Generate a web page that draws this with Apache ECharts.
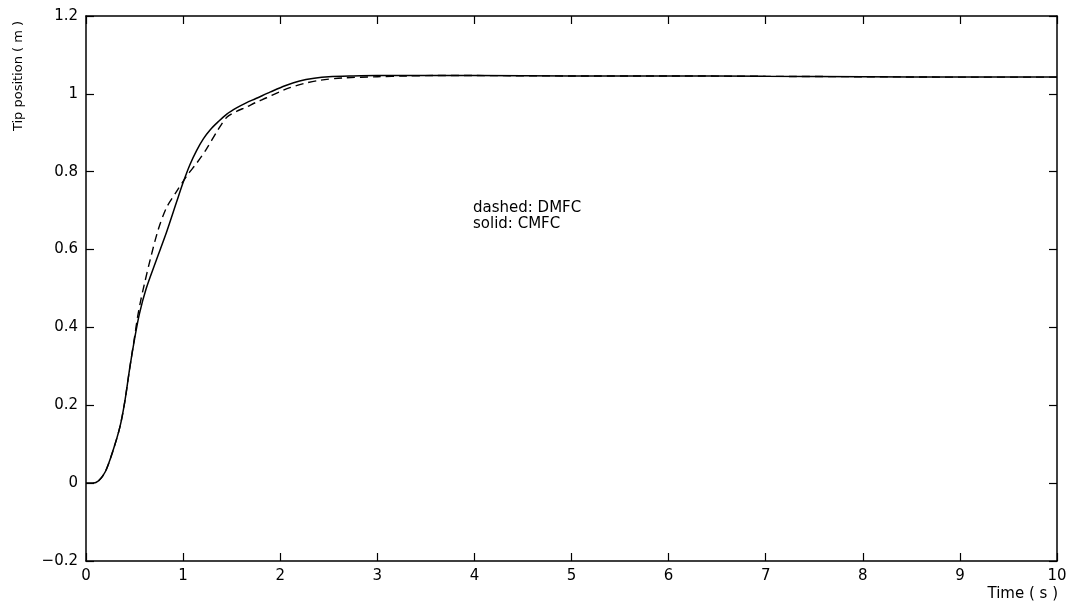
<!DOCTYPE html>
<html><head><meta charset="utf-8">
<script src="https://cdn.jsdelivr.net/npm/echarts@6/dist/echarts.min.js"></script>
<style>html,body{margin:0;padding:0;background:#fff}#c{width:1075px;height:604px}</style>
</head><body><div id="c"></div>
<script>
// CMFC (solid)
const solidT = [0, 0.07, 0.13, 0.2, 0.28, 0.35, 0.4, 0.45, 0.5, 0.55, 0.62, 0.72, 0.83, 0.93, 1.0, 1.07, 1.14, 1.21, 1.28, 1.36, 1.45, 1.55, 1.65, 1.75, 1.9, 2.05, 2.2, 2.35, 2.5, 2.75, 3.0, 3.5, 4, 5, 6, 7, 8, 9, 10];
const solidV = [0, 0, 0.006, 0.03, 0.085, 0.145, 0.21, 0.295, 0.37, 0.435, 0.50, 0.57, 0.645, 0.72, 0.772, 0.818, 0.855, 0.885, 0.908, 0.928, 0.948, 0.964, 0.977, 0.988, 1.005, 1.021, 1.033, 1.04, 1.044, 1.046, 1.047, 1.047, 1.047, 1.046, 1.046, 1.045, 1.044, 1.043, 1.043];
// DMFC (dashed)
const dashedT = [0, 0.07, 0.13, 0.2, 0.28, 0.35, 0.4, 0.45, 0.5, 0.53, 0.56, 0.6, 0.66, 0.745, 0.83, 0.93, 1.04, 1.14, 1.24, 1.36, 1.45, 1.55, 1.65, 1.75, 1.86, 2.0, 2.1, 2.25, 2.41, 2.65, 3.0, 3.3, 3.6, 4, 5, 6, 7, 8, 9, 10];
const dashedV = [0, 0, 0.006, 0.03, 0.085, 0.145, 0.21, 0.295, 0.375, 0.425, 0.465, 0.51, 0.573, 0.652, 0.708, 0.748, 0.79, 0.822, 0.858, 0.908, 0.94, 0.955, 0.966, 0.978, 0.99, 1.006, 1.016, 1.027, 1.035, 1.041, 1.044, 1.046, 1.047, 1.047, 1.046, 1.046, 1.045, 1.044, 1.043, 1.043];

const xName = 'Time ( s )';
const yName = 'Tip position ( m )';
const noteLines = ['dashed: DMFC', 'solid: CMFC'];

const FONT = 'DejaVu Sans';
const chart = echarts.init(document.getElementById('c'), null, {renderer: 'canvas'});
const axisLine = {show: true, onZero: false, lineStyle: {color: '#000', width: 1.5}};
const tick = {show: true, inside: true, length: 8, lineStyle: {color: '#000', width: 1.2}};
const pair = (t, v) => t.map((x, i) => [x, v[i]]);

chart.setOption({
  animation: false,
  backgroundColor: '#fff',
  grid: {left: 86, right: 18, top: 16, bottom: 43, containLabel: false},
  xAxis: [
    {type: 'value', position: 'bottom', min: 0, max: 10, interval: 1,
     axisLine, axisTick: tick, splitLine: {show: false},
     axisLabel: {color: '#000', fontFamily: FONT, fontSize: 15, margin: 8}},
    {type: 'value', position: 'top', min: 0, max: 10, interval: 1,
     axisLine, axisTick: tick, splitLine: {show: false}, axisLabel: {show: false}}
  ],
  yAxis: [
    {type: 'value', position: 'left', min: -0.2, max: 1.2, interval: 0.2,
     axisLine, axisTick: tick, splitLine: {show: false},
     axisLabel: {color: '#000', fontFamily: FONT, fontSize: 15, margin: 8,
       formatter: v => String(Math.round(v * 10) / 10).replace('-', '\u2212')}},
    {type: 'value', position: 'right', min: -0.2, max: 1.2, interval: 0.2,
     axisLine, axisTick: tick, splitLine: {show: false}, axisLabel: {show: false}}
  ],
  series: [
    {name: 'DMFC', type: 'line', data: pair(dashedT, dashedV), showSymbol: false, smooth: 0.3,
     lineStyle: {color: '#000', width: 1.4, type: [8, 5]}},
    {name: 'CMFC', type: 'line', data: pair(solidT, solidV), showSymbol: false, smooth: 0.3,
     lineStyle: {color: '#000', width: 1.5}}
  ],
  graphic: [
    {type: 'text', x: 1058, y: 594, style: {text: xName, fill: '#000', font: '15px "' + FONT + '"', textAlign: 'right', textVerticalAlign: 'middle'}},
    {type: 'text', x: 19, y: 76, rotation: Math.PI / 2, style: {text: yName, fill: '#000', font: '13px "' + FONT + '"', textAlign: 'center', textVerticalAlign: 'middle'}},
    {type: 'text', x: 473, y: 208, style: {text: noteLines[0], fill: '#000', font: '15px "' + FONT + '"', textAlign: 'left', textVerticalAlign: 'middle'}},
    {type: 'text', x: 473, y: 224, style: {text: noteLines[1], fill: '#000', font: '15px "' + FONT + '"', textAlign: 'left', textVerticalAlign: 'middle'}}
  ]
});
</script>
</body></html>
